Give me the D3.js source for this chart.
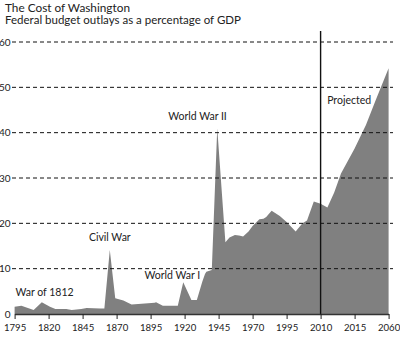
<!DOCTYPE html>
<html>
<head>
<meta charset="utf-8">
<script src="https://d3js.org/d3.v7.min.js"></script>
<style>
  body { margin:0; background:#fff; }
  text { font-family: Lato, "Open Sans", sans-serif; fill:#222; }
</style>
</head>
<body>
<script>
// years on the x axis (the original chart spaces these labels evenly)
const tickYears = [1795, 1820, 1845, 1870, 1895, 1920, 1945, 1970, 1995, 2010, 2015, 2060];
const yTicks = [0, 10, 20, 30, 40, 50, 60];

// federal outlays, % of GDP
const years = [1795, 1800, 1809, 1815, 1821, 1825, 1833, 1837, 1844, 1848, 1858, 1861, 1865, 1869, 1875, 1881,
  1898, 1899, 1904, 1915, 1919, 1925, 1929, 1933, 1935, 1936, 1940, 1944, 1950, 1953, 1957, 1960, 1963, 1967,
  1970, 1975, 1978, 1980, 1984, 1990, 1995, 1999, 2002, 2004, 2007, 2010, 2011, 2012, 2013, 2015, 2030, 2043, 2060];
const outlays = [1.6, 1.8, 0.9, 2.6, 1.6, 1.1, 1.1, 0.9, 1.1, 1.3, 1.2, 1.2, 14.1, 3.5, 3.0, 2.1,
  2.5, 2.6, 1.8, 1.8, 7.0, 3.1, 3.1, 7.1, 8.8, 9.3, 9.7, 41.0, 15.8, 16.9, 17.4, 17.3, 17.1, 18.2,
  19.4, 20.9, 21.0, 21.4, 22.8, 21.6, 20.3, 18.2, 20.0, 20.6, 24.8, 24.3, 23.5, 26.8, 31.0, 36.5, 41.7, 47.2, 54.2];

const notes = ["War of 1812", "Civil War", "World War I", "World War II", "Projected"];
const noteYears = [1817, 1865, 1911, 1929.5, 2014.2];
const noteValues = [4.0, 16.1, 7.7, 42.8, 46.4];

const width = 400, height = 338;
const plotLeft = 14.6, step = 34.0;
const plotBottom = 314, plotTop = 42;

const svg = d3.select("body").append("svg")
  .attr("width", width)
  .attr("height", height);

const x = d3.scaleLinear()
  .domain(tickYears)
  .range(tickYears.map((d, i) => plotLeft + i * step));

const y = d3.scaleLinear()
  .domain([0, 60])
  .range([plotBottom, plotTop]);

const data = years.map((d, i) => ({ year: d, value: outlays[i] }));

// title
svg.append("text").attr("x", 5).attr("y", 11.5).style("font-size", "11.8px").text("The Cost of Washington");
svg.append("text").attr("x", 5).attr("y", 24).style("font-size", "11.5px").text("Federal budget outlays as a percentage of GDP");

// area
const area = d3.area()
  .x(d => x(d.year))
  .y0(y(0))
  .y1(d => y(d.value));

svg.append("path")
  .datum(data)
  .attr("fill", "#808080")
  .attr("d", area);

// dashed gridlines
const grid = svg.append("g");
grid.selectAll("line")
  .data(yTicks.filter(d => d > 0))
  .enter().append("line")
  .attr("x1", 12)
  .attr("x2", 393)
  .attr("y1", d => y(d))
  .attr("y2", d => y(d))
  .attr("stroke", "#111")
  .attr("stroke-width", 1)
  .attr("stroke-dasharray", "4,3");

grid.selectAll("text")
  .data(yTicks)
  .enter().append("text")
  .attr("x", 10.5)
  .attr("y", d => y(d))
  .attr("dy", "0.35em")
  .attr("text-anchor", "end")
  .style("font-size", "10px")
  .text(d => d);

// 2010 divider
svg.append("line")
  .attr("x1", x(2010)).attr("x2", x(2010))
  .attr("y1", 31).attr("y2", y(0))
  .attr("stroke", "#111")
  .attr("stroke-width", 1.4);

// x axis
const xAxis = d3.axisBottom(x)
  .tickValues(tickYears)
  .tickFormat(d3.format("d"))
  .tickSizeInner(5)
  .tickSizeOuter(0)
  .tickPadding(5);

const gx = svg.append("g")
  .attr("transform", `translate(0,${y(0)})`)
  .call(xAxis);
gx.select(".domain").attr("stroke", "#333").attr("stroke-width", 1.6);
gx.selectAll(".tick line").attr("stroke", "#222");
gx.selectAll("text").style("font-size", "9.6px").style("font-family", "Lato, sans-serif").attr("fill", "#222");

// annotations
svg.append("g").selectAll("text")
  .data(notes)
  .enter().append("text")
  .attr("x", (d, i) => x(noteYears[i]))
  .attr("y", (d, i) => y(noteValues[i]))
  .attr("text-anchor", "middle")
  .style("font-size", "10.5px")
  .text(d => d);
</script>
</body>
</html>
